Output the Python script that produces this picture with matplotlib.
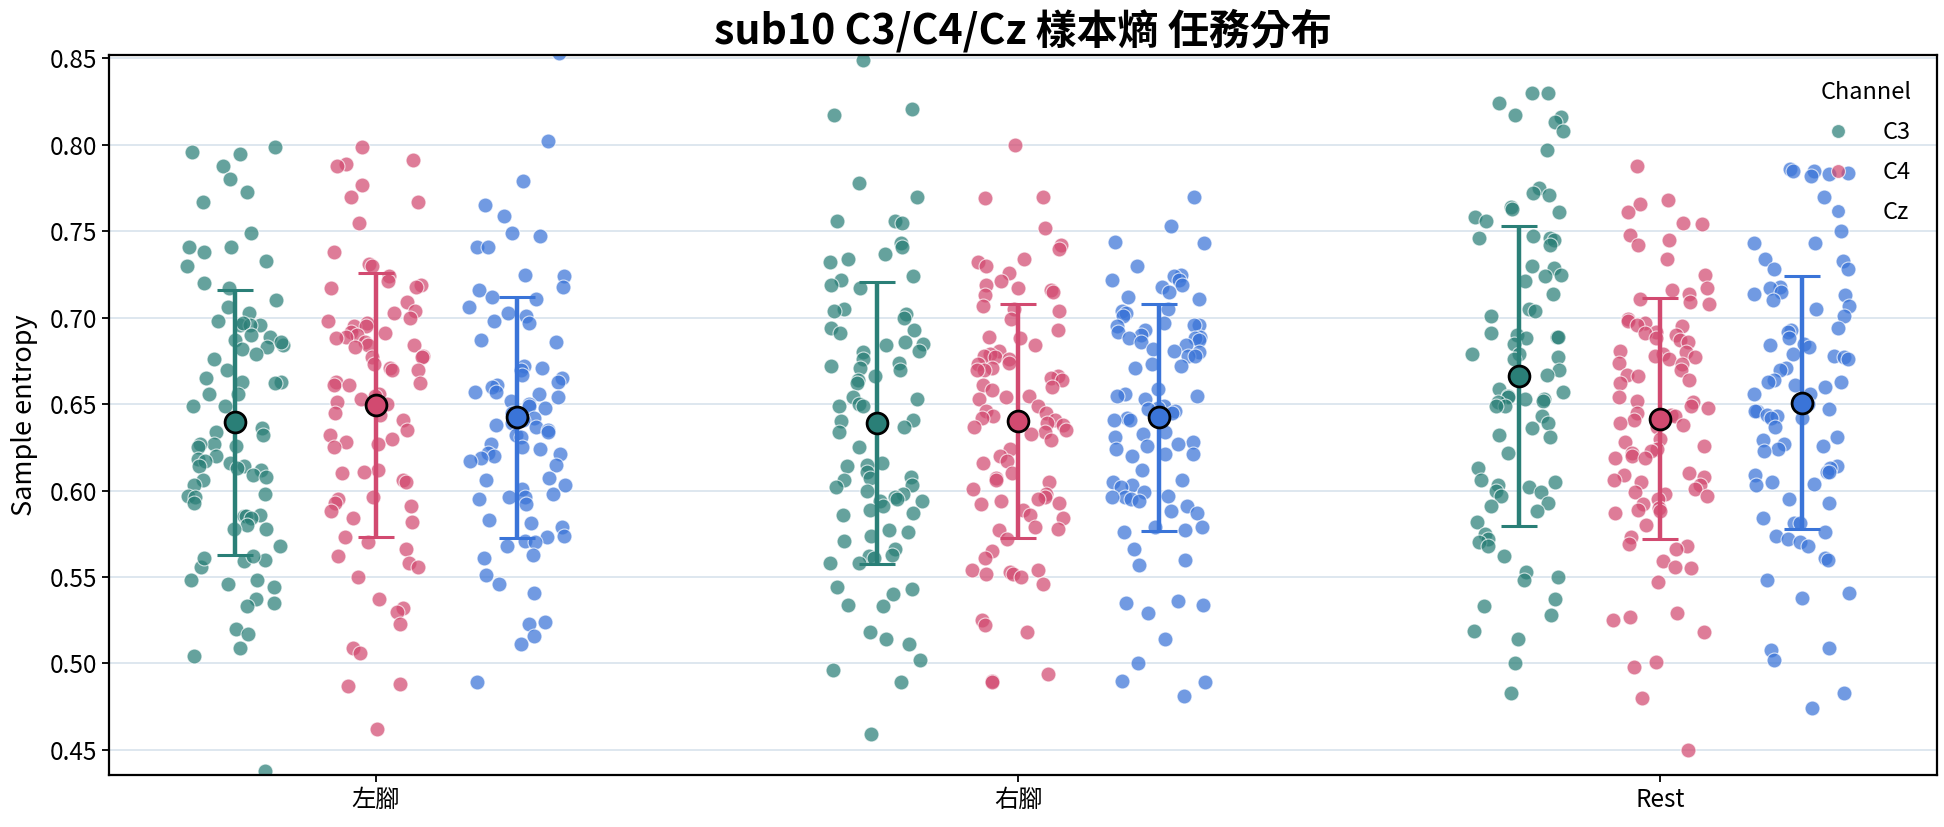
import numpy as np
import matplotlib
matplotlib.use("Agg")
import matplotlib.pyplot as plt
from matplotlib.lines import Line2D

plt.rcParams['font.family'] = ['Noto Sans CJK TC', 'DejaVu Sans']

tasks = ['左腳', '右腳', 'Rest']
channels = ['C3', 'C4', 'Cz']

left_c3 = [0.799, 0.796, 0.795, 0.788, 0.780, 0.773, 0.767, 0.749, 0.741, 0.741, 0.738, 0.733, 0.730, 0.720,
           0.717, 0.710, 0.706, 0.703, 0.698, 0.696, 0.696, 0.696, 0.697, 0.689, 0.690, 0.687, 0.684, 0.683,
           0.682, 0.686, 0.679, 0.676, 0.670, 0.665, 0.663, 0.663, 0.662, 0.656, 0.656, 0.649, 0.649, 0.641,
           0.636, 0.634, 0.632, 0.627, 0.626, 0.627, 0.625, 0.620, 0.618, 0.617, 0.616, 0.614, 0.614, 0.613,
           0.612, 0.609, 0.608, 0.606, 0.603, 0.598, 0.597, 0.596, 0.593, 0.585, 0.586, 0.585, 0.584, 0.580,
           0.578, 0.578, 0.568, 0.560, 0.559, 0.556, 0.562, 0.561, 0.548, 0.548, 0.546, 0.544, 0.537, 0.535,
           0.533, 0.520, 0.517, 0.509, 0.504, 0.438]
left_c4 = [0.799, 0.791, 0.789, 0.788, 0.777, 0.770, 0.767, 0.755, 0.738, 0.731, 0.730, 0.724, 0.721, 0.719,
           0.718, 0.717, 0.709, 0.704, 0.703, 0.700, 0.698, 0.697, 0.695, 0.695, 0.692, 0.691, 0.690, 0.689,
           0.688, 0.686, 0.684, 0.684, 0.683, 0.678, 0.677, 0.677, 0.673, 0.671, 0.670, 0.670, 0.663, 0.662,
           0.661, 0.661, 0.656, 0.655, 0.653, 0.651, 0.650, 0.645, 0.644, 0.641, 0.635, 0.632, 0.630, 0.628,
           0.627, 0.625, 0.612, 0.611, 0.610, 0.606, 0.605, 0.596, 0.595, 0.593, 0.591, 0.588, 0.584, 0.582,
           0.573, 0.570, 0.566, 0.562, 0.558, 0.556, 0.550, 0.537, 0.532, 0.530, 0.523, 0.509, 0.506,
           0.488, 0.487, 0.462]
left_cz = [0.853, 0.802, 0.779, 0.765, 0.759, 0.749, 0.747, 0.741, 0.741, 0.725, 0.724, 0.718, 0.716, 0.712,
           0.711, 0.706, 0.703, 0.701, 0.698, 0.697, 0.687, 0.686, 0.672, 0.671, 0.670, 0.667, 0.665, 0.663,
           0.661, 0.660, 0.657, 0.657, 0.656, 0.654, 0.652, 0.650, 0.649, 0.648, 0.645, 0.642, 0.641, 0.639,
           0.638, 0.637, 0.635, 0.634, 0.632, 0.631, 0.625, 0.627, 0.624, 0.621, 0.622, 0.620, 0.619, 0.617,
           0.615, 0.607, 0.606, 0.603, 0.601, 0.598, 0.596, 0.596, 0.595, 0.592, 0.583, 0.581, 0.579, 0.574,
           0.573, 0.571, 0.570, 0.568, 0.563, 0.561, 0.551, 0.546, 0.541, 0.524, 0.523,
           0.516, 0.511, 0.489]
right_c3 = [0.849, 0.821, 0.817, 0.778, 0.770, 0.756, 0.756, 0.755, 0.743, 0.741, 0.737, 0.734, 0.732, 0.724,
            0.722, 0.719, 0.717, 0.705, 0.704, 0.702, 0.700, 0.694, 0.693, 0.691, 0.686, 0.685, 0.684, 0.681,
            0.680, 0.676, 0.674, 0.672, 0.671, 0.670, 0.666, 0.664, 0.662, 0.654, 0.653, 0.650, 0.649, 0.649,
            0.641, 0.640, 0.637, 0.634, 0.625, 0.616, 0.615, 0.614, 0.611, 0.608, 0.607, 0.606, 0.603, 0.602,
            0.600, 0.598, 0.596, 0.595, 0.594, 0.594, 0.591, 0.589, 0.587, 0.586,
            0.577, 0.576, 0.574, 0.571, 0.566, 0.563, 0.562, 0.561,
            0.558, 0.558, 0.544, 0.543, 0.540, 0.534, 0.533, 0.518, 0.514, 0.511, 0.502, 0.496, 0.489, 0.459]
right_c4 = [0.800, 0.770, 0.769, 0.752, 0.742, 0.740, 0.734, 0.732, 0.730, 0.726, 0.721, 0.719, 0.717, 0.716,
            0.715, 0.713, 0.707, 0.705, 0.704, 0.699, 0.693, 0.689, 0.688, 0.684, 0.681, 0.679, 0.678, 0.677,
            0.676, 0.674, 0.673, 0.671, 0.670, 0.670, 0.666, 0.665, 0.664, 0.661, 0.660, 0.658, 0.655, 0.654,
            0.653, 0.649, 0.646, 0.645, 0.643, 0.642, 0.641, 0.639, 0.638, 0.637, 0.635, 0.634, 0.633, 0.629,
            0.624, 0.620, 0.617, 0.616, 0.610, 0.607, 0.606, 0.605, 0.601, 0.598, 0.596, 0.595, 0.594, 0.593,
            0.592, 0.589, 0.586, 0.584, 0.579, 0.578, 0.577, 0.572, 0.565, 0.561, 0.554, 0.554, 0.553, 0.552,
            0.552, 0.550, 0.546, 0.525, 0.522, 0.518, 0.494, 0.490, 0.489]
right_cz = [0.770, 0.753, 0.744, 0.743, 0.730, 0.725, 0.724, 0.722, 0.722, 0.719, 0.718, 0.715, 0.712, 0.711,
            0.705, 0.704, 0.703, 0.701, 0.697, 0.696, 0.696, 0.695, 0.693, 0.692, 0.690, 0.689, 0.688, 0.688,
            0.687, 0.686, 0.684, 0.682, 0.681, 0.680, 0.678, 0.678, 0.673, 0.672, 0.671, 0.659, 0.656, 0.655,
            0.655, 0.653, 0.649, 0.648, 0.647, 0.646, 0.645, 0.642, 0.641, 0.641, 0.634, 0.633, 0.631, 0.628,
            0.627, 0.626, 0.624, 0.621, 0.621, 0.620, 0.612, 0.606, 0.605, 0.603, 0.602, 0.599, 0.597, 0.596,
            0.596, 0.595, 0.594, 0.591, 0.588, 0.587, 0.579, 0.579, 0.577, 0.576, 0.566, 0.560, 0.557, 0.536,
            0.535, 0.534, 0.529, 0.514, 0.500, 0.490, 0.489, 0.481]
rest_c3 = [0.830, 0.830, 0.824, 0.817, 0.816, 0.813, 0.808, 0.797, 0.775, 0.771, 0.772, 0.764, 0.763, 0.761,
           0.758, 0.756, 0.747, 0.746, 0.746, 0.745, 0.742, 0.729, 0.730, 0.725, 0.724, 0.721, 0.714, 0.705,
           0.704, 0.701, 0.691, 0.690, 0.689, 0.689, 0.688, 0.685, 0.679, 0.679, 0.677, 0.676, 0.670, 0.667,
           0.659, 0.657, 0.655, 0.654, 0.653, 0.653, 0.652, 0.651, 0.649, 0.649, 0.643, 0.639, 0.636, 0.632,
           0.631, 0.622, 0.613, 0.606, 0.605, 0.603, 0.602, 0.600, 0.599, 0.597, 0.593, 0.591, 0.588, 0.582,
           0.575, 0.572, 0.570, 0.568, 0.562, 0.553, 0.550, 0.548, 0.537, 0.533, 0.528, 0.519, 0.514, 0.500,
           0.483]
rest_c4 = [0.788, 0.768, 0.766, 0.761, 0.755, 0.754, 0.748, 0.745, 0.742, 0.734, 0.725, 0.717, 0.716, 0.714,
           0.711, 0.709, 0.708, 0.699, 0.698, 0.697, 0.696, 0.695, 0.692, 0.691, 0.690, 0.688, 0.687, 0.686,
           0.681, 0.680, 0.679, 0.678, 0.677, 0.676, 0.674, 0.673, 0.670, 0.667, 0.666, 0.664, 0.662, 0.654,
           0.652, 0.651, 0.649, 0.648, 0.645, 0.644, 0.643, 0.641, 0.639, 0.638, 0.637, 0.630, 0.628, 0.626,
           0.624, 0.623, 0.622, 0.620, 0.619, 0.619, 0.610, 0.609, 0.608, 0.606, 0.605, 0.603, 0.601, 0.599,
           0.598, 0.597, 0.595, 0.592, 0.590, 0.589, 0.588, 0.587, 0.580, 0.573, 0.569, 0.568, 0.566, 0.559,
           0.556, 0.555, 0.547, 0.529, 0.527, 0.525, 0.518, 0.501, 0.498, 0.480, 0.450]
rest_cz = [0.786, 0.785, 0.785, 0.784, 0.783, 0.782, 0.770, 0.750, 0.743, 0.743, 0.734, 0.733, 0.728, 0.728,
           0.718, 0.717, 0.715, 0.714, 0.713, 0.710, 0.707, 0.705, 0.701, 0.694, 0.693, 0.692, 0.688, 0.685,
           0.684, 0.683, 0.679, 0.678, 0.677, 0.676, 0.671, 0.670, 0.664, 0.663, 0.663, 0.661, 0.660, 0.656,
           0.656, 0.652, 0.651, 0.650, 0.647, 0.646, 0.646, 0.644, 0.643, 0.642, 0.642, 0.637, 0.631, 0.629,
           0.627, 0.626, 0.624, 0.623, 0.614, 0.613, 0.611, 0.611, 0.609, 0.605, 0.604, 0.603, 0.595, 0.593,
           0.584, 0.581, 0.581, 0.576, 0.574, 0.572, 0.570, 0.568, 0.561, 0.560, 0.548, 0.541, 0.538, 0.509,
           0.508, 0.502, 0.483, 0.474]

data = {
    ('左腳', 'C3'): left_c3, ('左腳', 'C4'): left_c4, ('左腳', 'Cz'): left_cz,
    ('右腳', 'C3'): right_c3, ('右腳', 'C4'): right_c4, ('右腳', 'Cz'): right_cz,
    ('Rest', 'C3'): rest_c3, ('Rest', 'C4'): rest_c4, ('Rest', 'Cz'): rest_cz,
}

colors = {'C3': '#2a7f77', 'C4': '#d24a70', 'Cz': '#3a74d8'}
offsets = {'C3': -0.22, 'C4': 0.0, 'Cz': 0.22}


def strip_jitter(n, seed, half_width=0.075):
    # deterministic hash-style spread (strip plot jitter), not data
    k = np.arange(n) + 1.0 + seed * 101.0
    frac = np.modf(np.abs(np.sin(k * 12.9898 + seed * 78.233)) * 43758.5453)[0]
    return (frac - 0.5) * 2.0 * half_width


fig = plt.figure(figsize=(19.44, 8.27), dpi=100)
ax = fig.add_axes([0.056, 0.063, 0.9405, 0.8705])

for i, task in enumerate(tasks):
    for j, ch in enumerate(channels):
        vals = np.asarray(data[(task, ch)])
        jit = strip_jitter(len(vals), seed=i * 3 + j)
        xc = i + offsets[ch]
        ax.scatter(xc + jit, vals, s=115, color=colors[ch], alpha=0.72,
                   edgecolors='white', linewidths=0.8, zorder=2)
        m = vals.mean()
        sd = vals.std(ddof=1)
        ax.errorbar(xc, m, yerr=sd, fmt='none', ecolor=colors[ch], elinewidth=3.2,
                    capsize=13, capthick=2.2, zorder=3)
        ax.plot(xc, m, 'o', ms=15, mfc=colors[ch], mec='black', mew=2, zorder=4)

ax.set_xlim(-0.416, 2.431)
ax.set_ylim(0.4355, 0.852)
ax.set_xticks(range(len(tasks)))
ax.set_xticklabels(tasks)
ax.set_yticks(np.arange(0.45, 0.851, 0.05))
ax.set_yticklabels([f'{v:.2f}' for v in np.arange(0.45, 0.851, 0.05)])
ax.tick_params(axis='both', labelsize=17.5, length=5, width=1.3)
ax.yaxis.grid(True, color='#dbe5ee', linewidth=1.3)
ax.set_axisbelow(True)
for sp in ax.spines.values():
    sp.set_color('black')
    sp.set_linewidth(1.6)

ax.set_ylabel('Sample entropy', fontsize=19.5, labelpad=8)
ax.set_title('sub10 C3/C4/Cz 樣本熵 任務分布', fontsize=29.5, fontweight='bold', pad=8)

handles = [Line2D([], [], marker='o', linestyle='none', markersize=10, color=colors[c],
                  alpha=0.72, markeredgecolor='white', markeredgewidth=0.8) for c in channels]
leg = ax.legend(handles, channels, title='Channel', loc='upper right', frameon=False,
                fontsize=17, title_fontsize=17, alignment='right', handletextpad=0.9,
                borderaxespad=0.7, labelspacing=0.72)

fig.savefig('out.png', dpi=100)
